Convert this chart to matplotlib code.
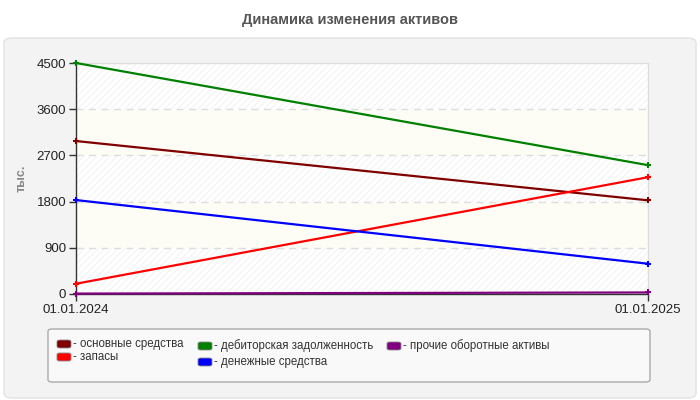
import matplotlib
matplotlib.use("Agg")
import matplotlib.pyplot as plt
from matplotlib.patches import FancyBboxPatch

plt.rcParams['font.family'] = ['Liberation Sans', 'DejaVu Sans']
plt.rcParams['hatch.linewidth'] = 0.6
plt.rcParams['hatch.color'] = '#ececec'

# data
dates = ['01.01.2024', '01.01.2025']
series_names = ['основные средства', 'запасы', 'дебиторская задолженность',
                'денежные средства', 'прочие оборотные активы']
osnovnye = [2980, 1825]
zapasy = [200, 2275]
debitorka = [4500, 2510]
dengi = [1830, 590]
prochie = [8, 30]
series_values = [osnovnye, zapasy, debitorka, dengi, prochie]
colors = ['#800000', '#ff0000', '#008000', '#0000ff', '#800080']
y_ticks = [0, 900, 1800, 2700, 3600, 4500]

fig = plt.figure(figsize=(7, 4), dpi=100)
fig.patch.set_facecolor('white')

# grey rounded panel (behind the axes)
panel = FancyBboxPatch((4 / 700, 2 / 400), 692 / 700, 360 / 400,
                       boxstyle="round,pad=0,rounding_size=0.012",
                       transform=fig.transFigure, facecolor='#f3f3f3',
                       edgecolor='#e2e2e2', linewidth=1, zorder=-10)
fig.patches.append(panel)

fig.text(0.5, 1 - 20 / 400, 'Динамика изменения активов', ha='center', va='center',
         fontsize=10.5, fontweight='bold', color='#555555')

ax = fig.add_axes([76 / 700, 1 - 294 / 400, 572 / 700, 231 / 400])
ax.set_zorder(2)
ax.set_facecolor('white')

x = list(range(len(dates)))
ax.set_xlim(0, 1)
ax.set_ylim(0, 4500)

# alternating bands
for i in range(len(y_ticks) - 1):
    lo, hi = y_ticks[i], y_ticks[i + 1]
    if i % 2 == 0:
        ax.axhspan(lo, hi, facecolor='white', hatch='/////', edgecolor='#efefef', linewidth=0, zorder=0)
    else:
        ax.axhspan(lo, hi, facecolor='#fdfdf5', linewidth=0, zorder=0)

for t in y_ticks[1:-1]:
    ax.axhline(t, color='#dddddd', linestyle=(0, (5, 4)), linewidth=1, zorder=1)

for vals, c in zip(series_values, colors):
    ax.plot(x, vals, color=c, linewidth=1.6, marker='+', markersize=5,
            markeredgewidth=1.5, zorder=3, clip_on=False)

ax.set_xticks(x)
ax.set_xticklabels(dates, fontsize=9.5, color='#222222')
ax.set_yticks(y_ticks)
ax.set_yticklabels([str(t) for t in y_ticks], fontsize=9.5, color='#222222')
ax.tick_params(axis='both', length=5, width=1, color='#333333', pad=2)

for s in ['left', 'bottom']:
    ax.spines[s].set_color('#333333')
    ax.spines[s].set_linewidth(1)
for s in ['top', 'right']:
    ax.spines[s].set_color('#dddddd')
    ax.spines[s].set_linewidth(1)

fig.text(22 / 700, 1 - 178 / 400, 'тыс.', rotation=90, ha='center', va='center',
         fontsize=9, fontweight='bold', color='#888888')

# legend box
leg = FancyBboxPatch((48 / 700, 1 - 382 / 400), 602 / 700, 53 / 400,
                     boxstyle="round,pad=0,rounding_size=0.006",
                     transform=fig.transFigure, facecolor='#f9f9f9',
                     edgecolor='#aaaaaa', linewidth=1)
fig.patches.append(leg)

leg_pos = [(57, 344), (57, 357), (198, 346), (198, 362), (387, 346)]
for (px, py), name, c in zip(leg_pos, series_names, colors):
    sw = FancyBboxPatch((px / 700, 1 - (py + 4) / 400), 14 / 700, 8 / 400,
                        boxstyle="round,pad=0,rounding_size=0.004",
                        transform=fig.transFigure, facecolor=c,
                        edgecolor='#888888', linewidth=0.6)
    fig.patches.append(sw)
    fig.text((px + 16) / 700, 1 - py / 400, '- ' + name, ha='left', va='center',
             fontsize=8.3, color='#333333')

fig.savefig('out.png', dpi=100)
